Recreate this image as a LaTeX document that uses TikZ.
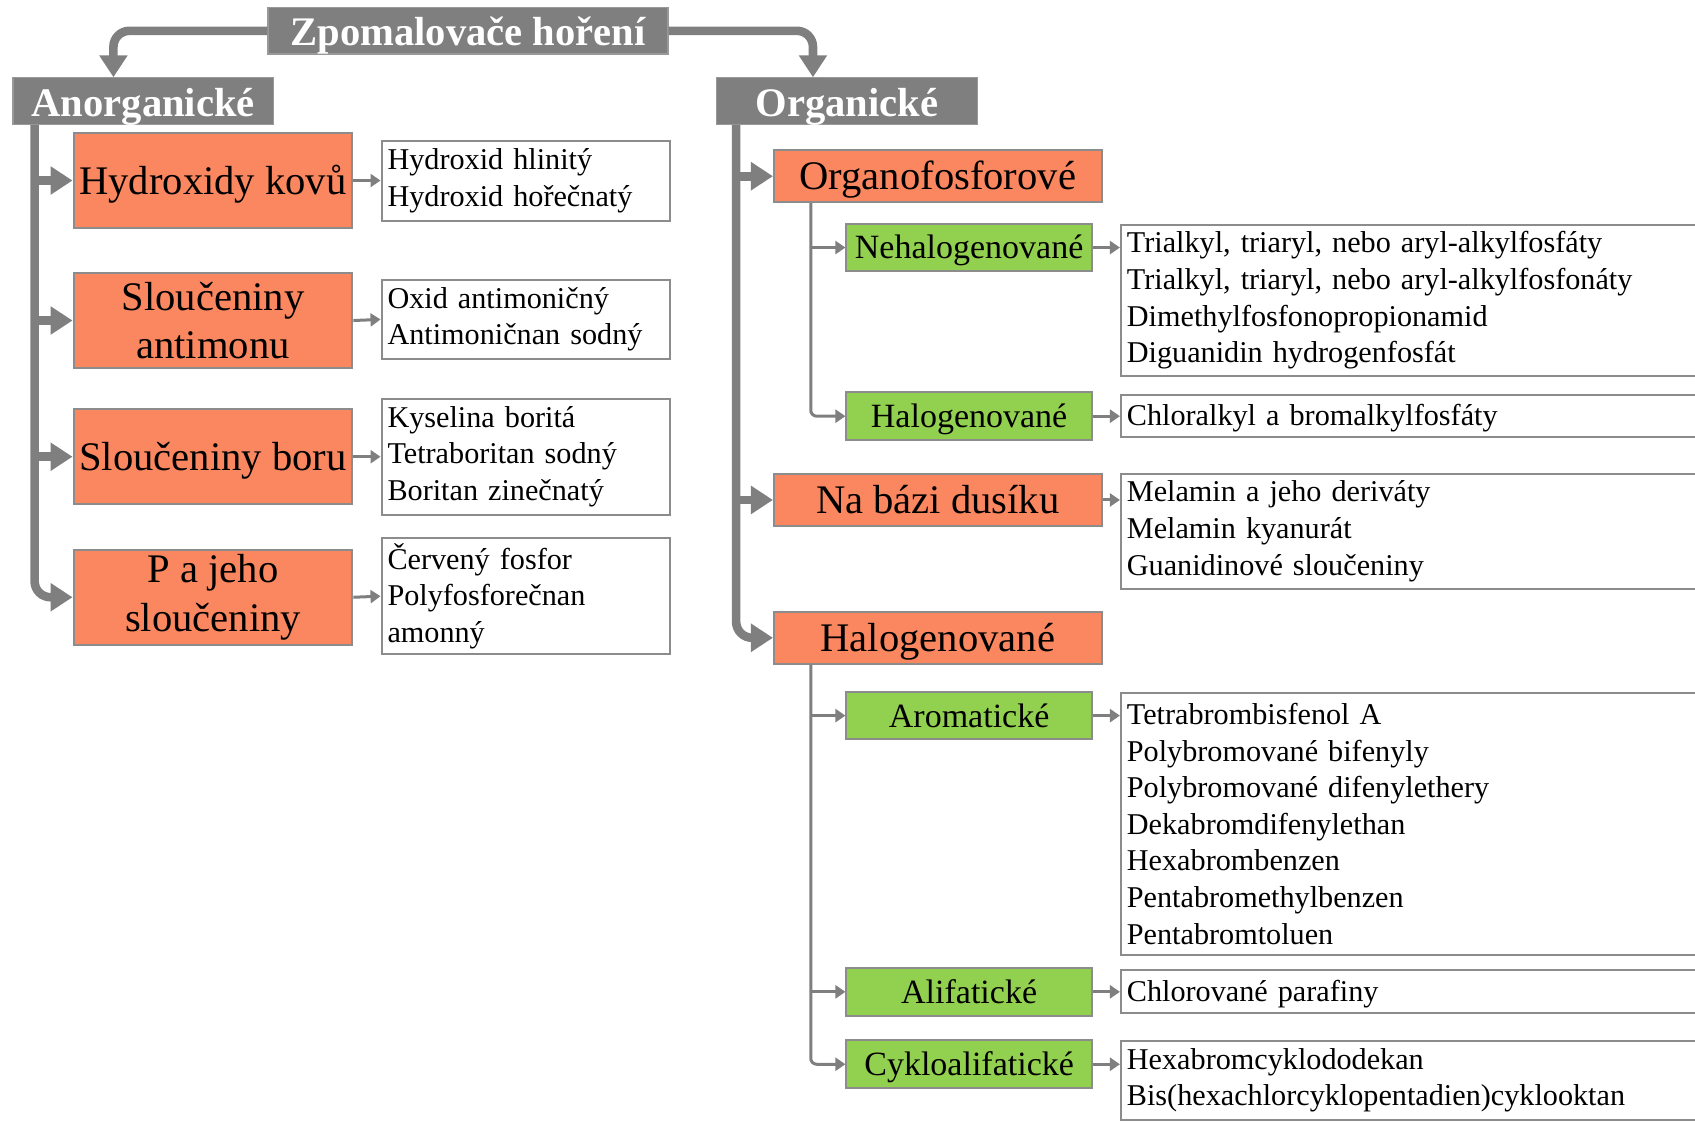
\documentclass[tikz,border=0pt]{standalone}
\usepackage{fontspec}
\setmainfont{Liberation Serif}
\usetikzlibrary{arrows.meta}
\definecolor{orng}{RGB}{250,135,95}
\definecolor{grn}{RGB}{146,208,80}
\definecolor{gry}{RGB}{127,127,127}
\definecolor{edgec}{RGB}{140,140,140}
\tikzset{
 greybox/.style={fill=gry, draw=gry!80!white, line width=0.6pt, text=white, font=\fontsize{20.3}{24}\selectfont\bfseries, minimum height=23.2pt, inner sep=0pt, text height=18.5pt, text depth=3.5pt},
 obox/.style={fill=orng, draw=edgec, line width=1pt, align=center, font=\fontsize{20.3}{24.3}\selectfont, inner sep=0pt},
 oone/.style={obox, text height=18.1pt, text depth=4.4pt},
 gbox/.style={fill=grn, draw=edgec, line width=1pt, font=\fontsize{17}{20}\selectfont, inner sep=0pt, minimum width=122.7pt, minimum height=23.8pt, text height=15.1pt, text depth=3.7pt},
 lbox/.style={fill=white, draw=edgec, line width=1pt, align=left, anchor=west, font=\fontsize{15.1}{18.3}\selectfont, inner xsep=3pt, inner ysep=0pt},
 llist/.style={lbox, text width=138.3pt},
 rlist/.style={lbox, text width=293.4pt},
 rone/.style={rlist, text height=13.5pt, text depth=3.3pt},
 bigarr/.style={draw=gry, line width=4.3pt, -{Triangle[width=13.5pt,length=11pt]}},
 smallarr/.style={draw=gry, line width=1.5pt, -{Triangle[width=6.5pt,length=5pt]}},
}
\begin{document}
\begin{tikzpicture}[x=0.5405pt, y=-0.5405pt]
\useasboundingbox (0,0) rectangle (1568,1038);
% top level
\node[greybox, minimum width=200pt] (title) at (433,28.5) {Zpomalovače hoření};
\node[greybox, minimum width=130.3pt] (anorg) at (132.5,93.5) {Anorganické};
\node[greybox, minimum width=130.3pt] (org) at (783.5,93.5) {Organické};
% left column
\node[oone, minimum width=139.4pt, minimum height=47.6pt] (hk) at (197,167) {Hydroxidy kovů};
\node[obox, minimum width=139.4pt, minimum height=47.6pt] (sa) at (197,296.5) {Sloučeniny\\antimonu};
\node[oone, minimum width=139.4pt, minimum height=47.6pt] (sb) at (197,422.5) {Sloučeniny boru};
\node[obox, minimum width=139.4pt, minimum height=47.6pt] (pj) at (197,552.5) {P a jeho\\sloučeniny};
\node[llist, minimum height=40pt] (l1) at (352,167) {Hydroxid hlinitý\\Hydroxid hořečnatý};
\node[llist, minimum height=39.5pt] (l2) at (352,295.5) {Oxid antimoničný\\Antimoničnan sodný};
\node[llist, minimum height=57.8pt] (l3) at (352,422.5) {Kyselina boritá\\Tetraboritan sodný\\Boritan zinečnatý};
\node[llist, minimum height=57.8pt] (l4) at (352,551.5) {Červený fosfor\\Polyfosforečnan\\amonný};
% right column
\node[oone, minimum width=163.8pt, minimum height=25.9pt] (of) at (867.5,163) {Organofosforové};
\node[oone, minimum width=163.8pt, minimum height=25.9pt] (nd) at (867.5,462.5) {Na bázi dusíku};
\node[oone, minimum width=163.8pt, minimum height=25.9pt] (hal) at (867.5,590) {Halogenované};
\node[gbox] (neh) at (896.5,229) {Nehalogenované};
\node[gbox] (hg) at (896.5,385) {Halogenované};
\node[gbox] (ar) at (896.5,662) {Aromatické};
\node[gbox] (al) at (896.5,917.5) {Alifatické};
\node[gbox] (cy) at (896.5,984.5) {Cykloalifatické};
\node[rlist, minimum height=75.7pt] (r1) at (1036,278) {Trialkyl, triaryl, nebo aryl-alkylfosfáty\\Trialkyl, triaryl, nebo aryl-alkylfosfonáty\\Dimethylfosfonopropionamid\\Diguanidin hydrogenfosfát};
\node[rone, minimum height=21.1pt] (r2) at (1036,384.5) {Chloralkyl a bromalkylfosfáty};
\node[rlist, minimum height=57.8pt] (r3) at (1036,491.5) {Melamin a jeho deriváty\\Melamin kyanurát\\Guanidinové sloučeniny};
\node[rlist, minimum height=130.8pt] (r4) at (1036,762) {Tetrabrombisfenol A\\Polybromované bifenyly\\Polybromované difenylethery\\Dekabromdifenylethan\\Hexabrombenzen\\Pentabromethylbenzen\\Pentabromtoluen};
\node[rone, minimum height=21.6pt] (r5) at (1036,917) {Chlorované parafiny};
\node[rlist, minimum height=39.5pt] (r6) at (1036,999.5) {Hexabromcyklododekan\\Bis(hexachlorcyklopentadien)cyklooktan};
% title connectors
\draw[bigarr, rounded corners=8pt] (title.west) -| ([xshift=-14.9pt]anorg.north);
\draw[bigarr, rounded corners=8pt] (title.east) -| ([xshift=-17pt]org.north);
% left trunk
\coordinate (lt) at (32,0);
\draw[bigarr, rounded corners=8pt] (anorg.south -| lt) -- (pj.west -| lt) -- (pj.west);
\draw[bigarr] (hk.west -| lt) -- (hk.west);
\draw[bigarr] (sa.west -| lt) -- (sa.west);
\draw[bigarr] (sb.west -| lt) -- (sb.west);
% right trunk
\coordinate (rt) at (681,0);
\draw[bigarr, rounded corners=8pt] (org.south -| rt) -- (hal.west -| rt) -- (hal.west);
\draw[bigarr] (of.west -| rt) -- (of.west);
\draw[bigarr] (nd.west -| rt) -- (nd.west);
% thin trunks
\coordinate (tt) at (750,0);
\draw[smallarr, rounded corners=3pt] (of.south -| tt) -- (hg.west -| tt) -- (hg.west);
\draw[smallarr] (neh.west -| tt) -- (neh.west);
\draw[smallarr, rounded corners=3pt] (hal.south -| tt) -- (cy.west -| tt) -- (cy.west);
\draw[smallarr] (ar.west -| tt) -- (ar.west);
\draw[smallarr] (al.west -| tt) -- (al.west);
% small arrows to lists
\draw[smallarr] (hk.east) -- (l1.west);
\draw[smallarr] (sa.east) -- (l2.west);
\draw[smallarr] (sb.east) -- (l3.west);
\draw[smallarr] (pj.east) -- (l4.west);
\draw[smallarr] (neh.east) -- (neh.east -| r1.west);
\draw[smallarr] (hg.east) -- (hg.east -| r2.west);
\draw[smallarr] (nd.east) -- (nd.east -| r3.west);
\draw[smallarr] (ar.east) -- (ar.east -| r4.west);
\draw[smallarr] (al.east) -- (al.east -| r5.west);
\draw[smallarr] (cy.east) -- (cy.east -| r6.west);
\end{tikzpicture}
\end{document}
